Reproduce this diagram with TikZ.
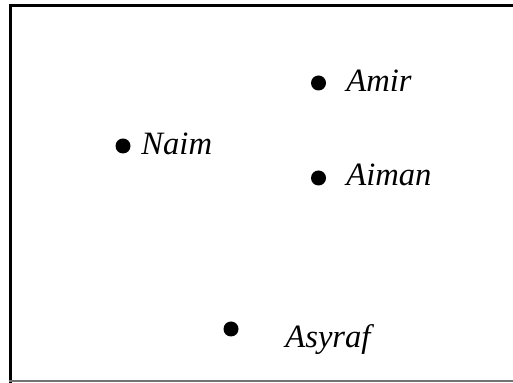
\documentclass[tikz,border=0pt]{standalone}
\usepackage{fontspec}
\setmainfont{Liberation Serif}[ItalicFont={Liberation Serif Italic}]
\newfontfamily\whofont{Liberation Serif Italic}
\usepackage{tikz}
\usetikzlibrary{positioning}

\tikzset{
	person/.style={shape=circle, fill=black, inner sep=0pt, minimum size=7.5pt},
	who/.style={anchor=base west, inner sep=0pt, font=\whofont\fontsize{16.3}{18}\selectfont},
}

\begin{document}
\begin{tikzpicture}[x=0.5pt, y=-0.5pt]
	\useasboundingbox (0,0) rectangle (513,383);
	\draw[line width=1.5pt] (10.5,400) -- (10.5,5.5) -- (530,5.5);
	\draw[line width=1pt, black!55] (9,381.5) -- (530,381.5);
	
	\node[person] (amir) at (318.5,83) {};
	\node[person] (naim) at (123,146) {};
	\node[person] (aiman) at (318.5,178) {};
	\node[person] (asyraf) at (231,329) {};
	
	\node[who] (amirlbl) at (346,92) {Amir};
	\node[who] (naimlbl) at (141,155) {Naim};
	\node[who] (aimanlbl) at (346,186) {Aiman};
	\node[who] (asyraflbl) at (285,348) {Asyraf};
\end{tikzpicture}
\end{document}
